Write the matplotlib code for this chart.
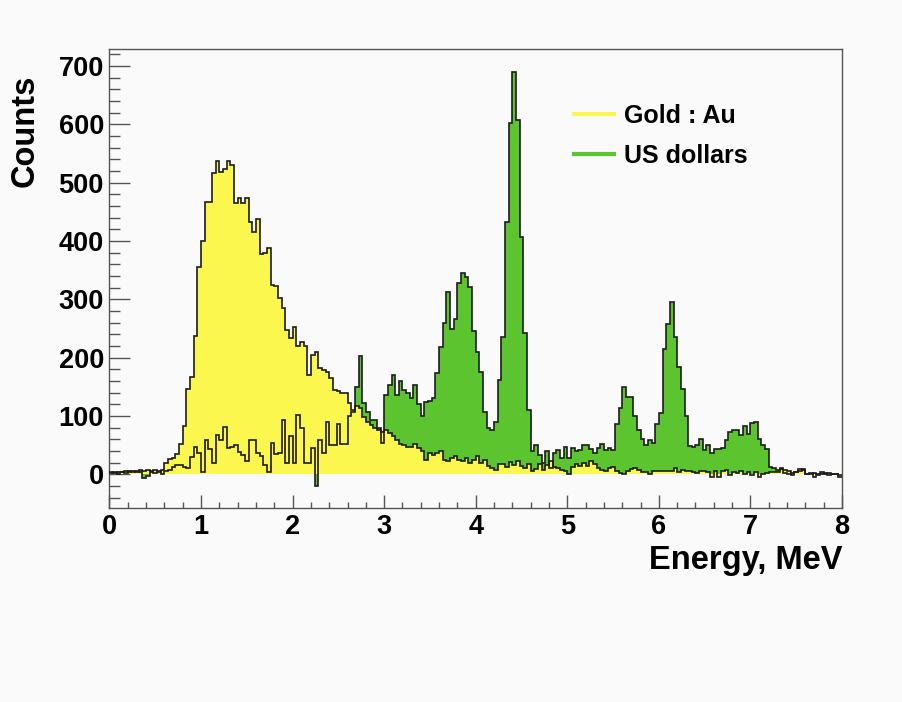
import numpy as np
import matplotlib
matplotlib.use('Agg')
import matplotlib.pyplot as plt
from matplotlib.lines import Line2D
from matplotlib.ticker import MultipleLocator

# 200 bins of 0.04 MeV between 0 and 8 MeV
bin_edges_mev = np.linspace(0, 8, 201)

gold_counts = [
    3, 2, 4, 3, 5, 4, 6, 3, 7, 5, 8, 5, 7, 6, 8,
    19, 26, 27, 35, 52, 82, 146, 166, 237, 355, 399, 467, 467,
    516, 537, 518, 524, 537, 530, 465, 474, 465, 474,
    433, 416, 437, 378, 380, 387, 325, 322, 302, 285,
    247, 234, 252, 220, 227, 220, 170,
    205, 210, 182, 179, 176, 165, 145, 142, 139, 140,
    122, 110, 117, 113, 98, 90, 85, 80, 75, 72,
    76, 70, 65, 59, 52, 50,
    47, 47, 52, 45, 39, 25, 37, 33, 36, 39,
    25, 22, 27, 31, 25, 22, 27, 19, 25, 31,
    19, 25, 14, 10, 7, 17, 18, 12, 21,
    16, 22, 14, 10, 17, 5, 9, 17, 7, 16,
    22, 13, 10, 7, 5, 0, 13, 17, 14, 19,
    14, 23, 17, 10, 7, 5, 10,
    12, 5, 2, 0, 6, 9, 10, 7, 3, 3,
    1, 5, 5, 5, 5, 5, 6, 11, 3, 7,
    5, 6, 3, 2, 5, 5, 4,
    -4, 6, -4, 5, 7, -1, 4, 2, 6, 0,
    4, -2, 3, -4, 0, 2, 4, 3, 4, 9,
    7, 5, -1, 4, 9, 8, 0, 2, -4, -1,
    0, 2, -2, 1, 0, -5,
]

dollar_counts = [
    2, 3, 1, 4, 2, 5, 3, 5, 4, -7, -3, 4, 2, 3, 1,
    5, 7, 12, 16, 16, 13, 10, 30, 46, 36, 3, 58, 43,
    20, 67, 59, 81, 45, 47, 50, 38, 33, 22,
    59, 59, 37, 31, 16, 3, 54, 34, 36, 93,
    19, 66, 19, 102, 79, 19, 20,
    45, -21, 59, 36, 90, 50, 50, 86, 52, 52,
    100, 106, 150, 202, 122, 107, 93, 93, 79, 53,
    135, 153, 170, 136, 160, 145,
    140, 130, 153, 121, 99, 123, 126, 130, 173, 218,
    259, 312, 249, 266, 327, 345, 338, 321, 246, 210,
    175, 107, 80, 75, 90, 161, 235, 433, 602,
    690, 607, 407, 242, 110, 39, 50, 33, 19, 39,
    10, 36, 42, 27, 47, 27, 45, 40, 42, 50,
    50, 44, 36, 45, 52, 42, 45,
    41, 86, 113, 149, 133, 133, 99, 75, 60, 50,
    59, 53, 86, 105, 214, 258, 296, 235, 183, 146,
    99, 49, 47, 50, 60, 42, 50,
    37, 43, 43, 45, 58, 73, 75, 75, 67, 82,
    69, 87, 89, 60, 50, 43, 12, 10, 7, 10,
    2, 0, 2, 3, 6, 9, 1, 0, 2, 1,
    3, 0, 2, 1, 0, -1,
]

series_labels = ['Gold : Au', 'US dollars']

bg = '#fafafa'
yellow = '#fbf74f'
green = '#5cc42f'
edge = '#1c1c1c'
axis_col = '#555555'

plt.rcParams['font.family'] = ['Liberation Sans', 'DejaVu Sans']
plt.rcParams['font.weight'] = 'bold'

fig = plt.figure(figsize=(9.03, 7.02), dpi=100, facecolor=bg)
ax = fig.add_axes([109.5 / 903, 1 - 508 / 702, (842 - 109.5) / 903, (508 - 49) / 702])
ax.set_facecolor(bg)

# fills first, outlines over both so they stay visible
ax.stairs(dollar_counts, bin_edges_mev, fill=True, baseline=0, color=green, zorder=1)
ax.stairs(gold_counts, bin_edges_mev, fill=True, baseline=0, color=yellow, zorder=2)
ax.stairs(gold_counts, bin_edges_mev, baseline=None, color=edge, lw=1.2, zorder=3)
ax.stairs(dollar_counts, bin_edges_mev, baseline=None, color=edge, lw=1.2, zorder=4)

ax.set_xlim(0, 8)
ax.set_ylim(-58, 729)

ax.xaxis.set_major_locator(MultipleLocator(1))
ax.xaxis.set_minor_locator(MultipleLocator(0.2))
ax.yaxis.set_major_locator(MultipleLocator(100))
ax.yaxis.set_minor_locator(MultipleLocator(20))

ax.tick_params(which='both', direction='in', color=axis_col, width=1,
               top=False, right=False, labelsize=19.5)
ax.tick_params(axis='x', which='major', length=9.5, pad=4)
ax.tick_params(axis='x', which='minor', length=4.5)
ax.tick_params(axis='y', which='major', length=15, pad=4)
ax.tick_params(axis='y', which='minor', length=8)
for s in ax.spines.values():
    s.set_color(axis_col)
    s.set_linewidth(1)

fig.text(843 / 903, 1 - 560 / 702, 'Energy, MeV', ha='right', va='center',
         fontsize=23.5, fontweight='bold')
fig.text(25 / 903, 1 - 75 / 702, 'Counts', rotation=90, ha='center', va='top',
         fontsize=23.5, fontweight='bold')

handles = [Line2D([], [], color=yellow, lw=3), Line2D([], [], color=green, lw=3)]
ax.legend(handles, series_labels, loc='upper left', bbox_to_anchor=(0.603, 0.93),
          frameon=False, fontsize=18, handlelength=1.6, handletextpad=0.4,
          labelspacing=0.65)

plt.savefig('out.png', dpi=100, facecolor=bg)
